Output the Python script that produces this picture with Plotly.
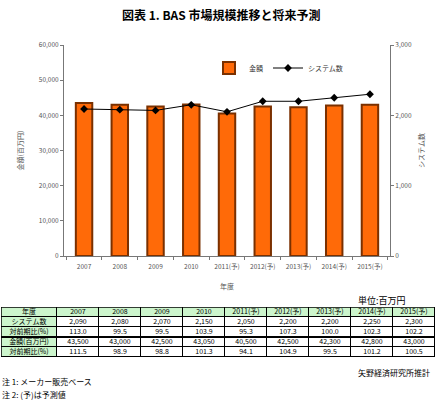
import plotly.graph_objects as go

years = ["2007", "2008", "2009", "2010", "2011(予)", "2012(予)", "2013(予)", "2014(予)", "2015(予)"]
systems = [2090, 2080, 2070, 2150, 2050, 2200, 2200, 2250, 2300]
systems_yoy = [113.0, 99.5, 99.5, 103.9, 95.3, 107.3, 100.0, 102.3, 102.2]
amount = [43500, 43000, 42500, 43050, 40500, 42500, 42300, 42800, 43000]
amount_yoy = [111.5, 98.9, 98.8, 101.3, 94.1, 104.9, 99.5, 101.2, 100.5]
row_labels = ["システム数", "対前期比(%)", "金額(百万円)", "対前期比(%)"]

W, H = 442, 400
FONT = "Noto Sans CJK JP"
GREEN = "#CCF5CC"
AXIS = "#777"


def px_x(x):
    return x / W


def px_y(y):
    return 1 - y / H


fig = go.Figure()

fig.add_trace(go.Bar(
    x=years, y=amount, name="金額",
    marker=dict(color="#FF6A08", line=dict(color="#7A3000", width=2)),
    width=0.46,
))

fig.add_trace(go.Scatter(
    x=years, y=systems, name="システム数", yaxis="y2",
    mode="lines+markers",
    line=dict(color="black", width=1),
    marker=dict(symbol="diamond", size=6, color="black"),
))

# data table under the chart, drawn as a heatmap grid (gaps show the black rules)
table_text = [["年度"] + years]
table_fill = [[1] * (len(years) + 1)]
for label, vals in zip(row_labels, [
        [f"{v:,}" for v in systems],
        [f"{v:.1f}" for v in systems_yoy],
        [f"{v:,}" for v in amount],
        [f"{v:.1f}" for v in amount_yoy]]):
    table_text.append([label] + vals)
    table_fill.append([1] + [0] * len(years))

col_edges = [0, 56]
for _ in years:
    col_edges.append(col_edges[-1] + 42)

fig.add_trace(go.Heatmap(
    z=table_fill, text=table_text, texttemplate="%{text}",
    textfont=dict(family=FONT, size=7, color="black"),
    x=col_edges, y=list(range(len(table_text))),
    colorscale=[[0, "white"], [1, GREEN]], zmin=0, zmax=1,
    showscale=False, xgap=1, ygap=1, hoverinfo="skip",
    xaxis="x3", yaxis="y3",
))

fig.update_layout(
    width=W, height=H,
    margin=dict(l=0, r=0, t=0, b=0),
    paper_bgcolor="white", plot_bgcolor="white",
    font=dict(family=FONT, size=7, color="#444"),
    showlegend=True,
    legend=dict(
        orientation="h", x=px_x(209), y=px_y(68), xanchor="left", yanchor="middle",
        font=dict(size=7, color="#333"), bgcolor="rgba(0,0,0,0)",
    ),
    xaxis=dict(
        domain=[px_x(64), px_x(390)], anchor="y", automargin=False,
        showline=True, linecolor=AXIS, linewidth=1,
        ticks="outside", tickson="boundaries", ticklen=3, tickcolor=AXIS,
        tickangle=0, tickfont=dict(size=6.5, color="#555"), ticklabelstandoff=4,
        title=dict(text="年度", font=dict(size=7, color="#555"), standoff=14),
    ),
    yaxis=dict(
        domain=[px_y(256), px_y(45)], automargin=False,
        range=[0, 60000], dtick=10000, tickformat=",",
        showline=True, linecolor=AXIS, linewidth=1,
        ticks="outside", ticklen=3, tickcolor=AXIS,
        showgrid=False, zeroline=False,
        tickfont=dict(size=6.5, color="#555"),
        title=dict(text="金額(百万円)", font=dict(size=7, color="#555"), standoff=14),
    ),
    yaxis2=dict(
        overlaying="y", side="right", anchor="x", automargin=False,
        range=[0, 3000], dtick=1000, tickformat=",",
        showline=True, linecolor=AXIS, linewidth=1,
        ticks="outside", ticklen=3, tickcolor=AXIS,
        showgrid=False, zeroline=False,
        tickfont=dict(size=6.5, color="#555"),
        title=dict(text="システム数", font=dict(size=7, color="#555"), standoff=8),
    ),
    xaxis3=dict(
        domain=[px_x(1), px_x(435)], anchor="y3", automargin=False,
        range=[0, col_edges[-1]], visible=False, fixedrange=True,
    ),
    yaxis3=dict(
        domain=[px_y(357), px_y(307)], anchor="x3", automargin=False,
        range=[len(table_text) - 0.5, -0.5], visible=False, fixedrange=True,
    ),
)

# black backing behind the table grid, outer frame and the double rule
fig.add_shape(type="rect", xref="x3", yref="y3", x0=0, x1=col_edges[-1],
              y0=-0.5, y1=len(table_text) - 0.5, layer="below",
              fillcolor="black", line=dict(width=0))
fig.add_shape(type="rect", xref="x3", yref="y3", x0=0, x1=col_edges[-1],
              y0=-0.5, y1=len(table_text) - 0.5,
              line=dict(color="black", width=1.5))
fig.add_shape(type="line", xref="x3", yref="y3", x0=0, x1=col_edges[-1],
              y0=2.5, y1=2.5, line=dict(color="black", width=2))

notes = [
    ("<b>図表 1. BAS 市場規模推移と将来予測</b>", 221, 14, "center", 12),
    ("単位:百万円", 408, 300, "right", 9),
    ("矢野経済研究所推計", 432, 372, "right", 8),
    ("注 1: メーカー販売ベース", 0, 381, "left", 8),
    ("注 2: (予)は予測値", 0, 394, "left", 8),
]
for text, x, y, anchor, size in notes:
    fig.add_annotation(
        text=text, x=px_x(x), y=px_y(y), xref="paper", yref="paper",
        xanchor=anchor, yanchor="middle", showarrow=False,
        font=dict(size=size, color="black", family=FONT),
    )

# the page body has a default margin; drop it so the figure sits at the corner
fig.write_html(
    "out.html",
    config={"displayModeBar": False},
    post_script="document.body.style.margin='0px';",
)
